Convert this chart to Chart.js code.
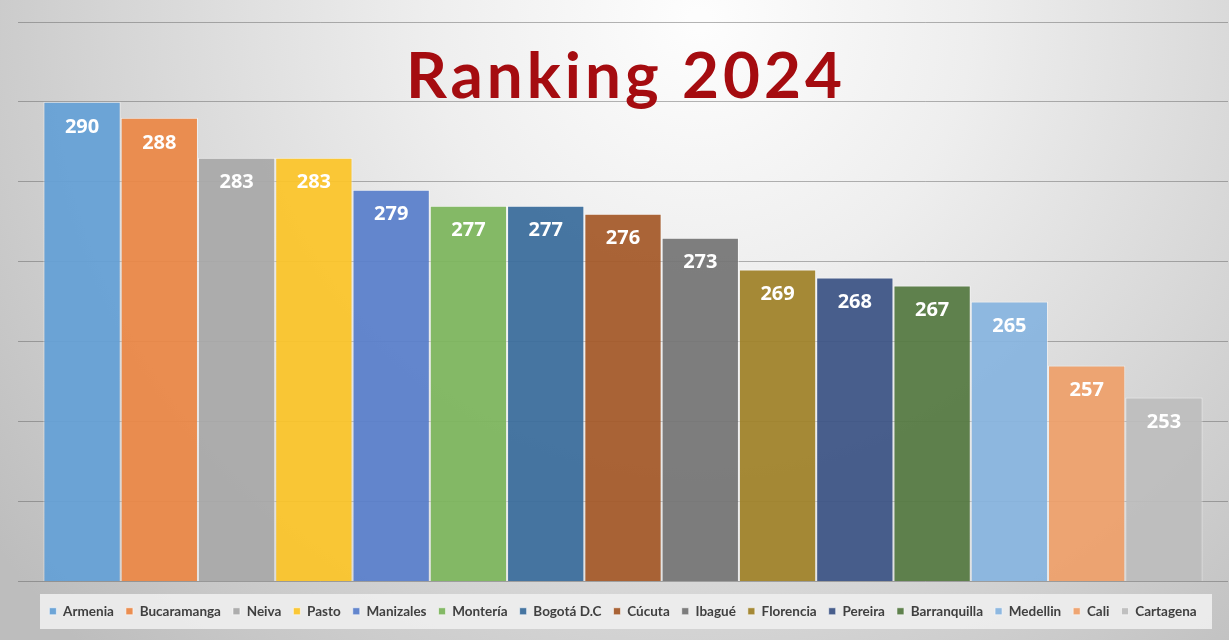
<!DOCTYPE html>
<html>
<head>
<meta charset="utf-8">
<script src="https://cdn.jsdelivr.net/npm/chart.js@4.4.1/dist/chart.umd.min.js"></script>
<style>
  html, body { margin: 0; padding: 0; background: #e6e6e6; }
  #wrap { position: relative; width: 1229px; height: 640px; }
  canvas { display: block; }
</style>
</head>
<body>
<div id="wrap"><canvas id="c" width="1229" height="640"></canvas></div>
<script>
const titleText = 'Ranking 2024';
const categories = ['2024'];
const cities = ['Armenia', 'Bucaramanga', 'Neiva', 'Pasto', 'Manizales', 'Montería', 'Bogotá D.C', 'Cúcuta', 'Ibagué', 'Florencia', 'Pereira', 'Barranquilla', 'Medellin', 'Cali', 'Cartagena'];
const scores = [290, 288, 283, 283, 279, 277, 277, 276, 273, 269, 268, 267, 265, 257, 253];
const colors = ['#65a0d6', '#eb8847', '#a9a9a9', '#fbc52a', '#5a80cb', '#7db65d', '#3b6d9c', '#a55a2a', '#767676', '#a0832a', '#3e5586', '#567a43', '#88b5df', '#eea06b', '#bdbdbd'];
const yMin = 230, yMax = 300, yStep = 10;

function withAlpha(hex, a) {
  const r = parseInt(hex.slice(1, 3), 16), g = parseInt(hex.slice(3, 5), 16), b = parseInt(hex.slice(5, 7), 16);
  return `rgba(${r},${g},${b},${a})`;
}

const datasets = cities.map((name, i) => ({
  label: name,
  data: [scores[i]],
  backgroundColor: withAlpha(colors[i], 0.94),
  borderColor: 'rgba(255,255,255,0.55)',
  borderWidth: 1,
  barPercentage: 1.0,
  categoryPercentage: 0.958
}));

const backgroundPlugin = {
  id: 'bg',
  beforeDraw(chart) {
    const ctx = chart.ctx, w = chart.width, h = chart.height;
    ctx.save();
    const g = ctx.createRadialGradient(700, 20, 10, 700, 20, 880);
    g.addColorStop(0, '#fdfdfd');
    g.addColorStop(0.3, '#eeeeee');
    g.addColorStop(0.65, '#d6d6d6');
    g.addColorStop(1, '#bdbdbd');
    ctx.fillStyle = g;
    ctx.fillRect(0, 0, w, h);
    ctx.fillStyle = 'rgba(238,238,238,0.9)';
    ctx.fillRect(40, 594, 1172, 35);
    ctx.restore();
  }
};

const labelPlugin = {
  id: 'valueLabels',
  afterDatasetsDraw(chart) {
    const ctx = chart.ctx;
    ctx.save();
    ctx.font = 'bold 20px "Open Sans", sans-serif';
    ctx.fillStyle = '#ffffff';
    ctx.textAlign = 'center';
    ctx.textBaseline = 'middle';
    chart.data.datasets.forEach((ds, i) => {
      const meta = chart.getDatasetMeta(i);
      meta.data.forEach((bar, j) => {
        ctx.fillText(String(ds.data[j]), bar.x, bar.y + 25);
      });
    });
    ctx.restore();
  }
};

const titlePlugin = {
  id: 'bigTitle',
  afterDraw(chart) {
    const ctx = chart.ctx;
    ctx.save();
    ctx.font = 'bold 64px Lato, "Open Sans", sans-serif';
    if ('letterSpacing' in ctx) ctx.letterSpacing = '4px';
    ctx.fillStyle = '#a50c10';
    ctx.textAlign = 'center';
    ctx.textBaseline = 'alphabetic';
    ctx.fillText(titleText, 626, 98, 440);
    ctx.restore();
  }
};

new Chart(document.getElementById('c'), {
  type: 'bar',
  data: { labels: categories, datasets: datasets },
  options: {
    responsive: false,
    animation: false,
    layout: { padding: { left: 18, right: 1, top: 22, bottom: 12 } },
    scales: {
      x: { display: false },
      y: {
        min: yMin, max: yMax,
        ticks: { display: false, stepSize: yStep },
        border: { display: false },
        grid: { color: 'rgba(90,90,90,0.45)', lineWidth: 1, drawTicks: false }
      }
    },
    plugins: {
      tooltip: { enabled: false },
      title: { display: false },
      legend: {
        display: true,
        position: 'bottom',
        title: { display: true, text: ' ', font: { size: 2 }, padding: { top: 0, bottom: 9 } },
        labels: {
          boxWidth: 7,
          boxHeight: 7,
          padding: 12,
          color: '#404040',
          font: { family: 'Lato, "Open Sans", sans-serif', size: 13.5, weight: 'bold' }
        }
      }
    }
  },
  plugins: [backgroundPlugin, labelPlugin, titlePlugin]
});
</script>
</body>
</html>
